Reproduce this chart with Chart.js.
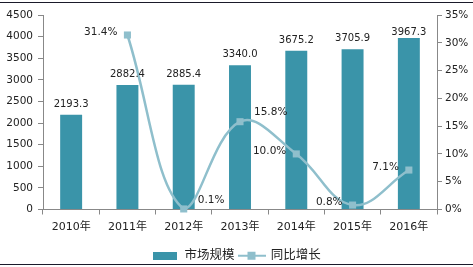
<!DOCTYPE html>
<html>
<head>
<meta charset="utf-8">
<script src="https://cdn.jsdelivr.net/npm/chart.js@4/dist/chart.umd.min.js"></script>
<style>
  html, body { margin: 0; padding: 0; background: #fff; }
  #wrap { position: relative; width: 473px; height: 267px; }
  .edge { position: absolute; left: 0; width: 473px; height: 1px; background: #1a1a2a; }
</style>
</head>
<body>
<div id="wrap">
  <canvas id="myChart" width="473" height="267"></canvas>
  <div class="edge" style="top:2px"></div>
  <div class="edge" style="top:264px"></div>
</div>
<script>
// данные графика
const years = ["2010年", "2011年", "2012年", "2013年", "2014年", "2015年", "2016年"];
const marketSize = [2193.3, 2882.4, 2885.4, 3340.0, 3675.2, 3705.9, 3967.3];
const growth = [null, 31.4, 0.1, 15.8, 10.0, 0.8, 7.1];
const leftTicks = [0, 500, 1000, 1500, 2000, 2500, 3000, 3500, 4000, 4500];
const rightTicks = [0, 5, 10, 15, 20, 25, 30, 35];

const barColor = "#3a94a9";
const lineColor = "#8fbfcc";
const font = "'DejaVu Sans', 'Noto Sans CJK SC', sans-serif";

// где рисовать подписи процентов: слева или справа от точки
const growthLabelSide = [null, "left", "right", "right", "left", "left", "left"];

// иконки для легенды
function barIcon() {
  const c = document.createElement("canvas");
  c.width = 24; c.height = 8;
  const g = c.getContext("2d");
  g.fillStyle = barColor;
  g.fillRect(0, 0, 24, 8);
  return c;
}
function lineIcon() {
  const c = document.createElement("canvas");
  c.width = 28; c.height = 10;
  const g = c.getContext("2d");
  g.strokeStyle = lineColor;
  g.lineWidth = 2;
  g.beginPath(); g.moveTo(0, 5); g.lineTo(28, 5); g.stroke();
  g.fillStyle = lineColor;
  g.fillRect(10, 1, 8, 8);
  return c;
}

// подписи значений
const valueLabels = {
  id: "valueLabels",
  afterDatasetsDraw(chart) {
    const ctx = chart.ctx;
    ctx.save();
    ctx.fillStyle = "#222";
    ctx.font = "10px " + font;
    ctx.textBaseline = "alphabetic";
    ctx.textAlign = "center";
    chart.getDatasetMeta(0).data.forEach((bar, i) => {
      ctx.fillText(marketSize[i].toFixed(1), bar.x, Math.max(bar.y - 8, 35));
    });
    ctx.font = "10.5px " + font;
    ctx.textBaseline = "middle";
    chart.getDatasetMeta(1).data.forEach((pt, i) => {
      if (growth[i] === null) return;
      const txt = growth[i].toFixed(1) + "%";
      if (growthLabelSide[i] === "left") {
        ctx.textAlign = "right";
        ctx.fillText(txt, pt.x - 10, pt.y - 3);
      } else {
        ctx.textAlign = "left";
        ctx.fillText(txt, pt.x + 14, pt.y - 9);
      }
    });
    ctx.restore();
  }
};

const ctx = document.getElementById("myChart").getContext("2d");

const config = {
  data: {
    labels: years,
    datasets: [{
      type: "bar",
      label: "市场规模",
      data: marketSize,
      backgroundColor: barColor,
      yAxisID: "y",
      barPercentage: 0.78,
      categoryPercentage: 0.5,
      order: 2
    }, {
      type: "line",
      label: "同比增长",
      data: growth,
      yAxisID: "y1",
      borderColor: lineColor,
      backgroundColor: lineColor,
      borderWidth: 2.5,
      tension: 0.4,
      pointStyle: "rect",
      pointRadius: 5,
      pointBorderWidth: 0,
      spanGaps: true,
      clip: false,
      order: 1
    }]
  },
  options: {
    responsive: false,
    animation: false,
    layout: { padding: { top: 15, left: 0, right: 0, bottom: -5 } },
    plugins: {
      tooltip: { enabled: false },
      legend: {
        position: "bottom",
        labels: {
          color: "#222",
          font: { family: font, size: 12.5 },
          usePointStyle: true,
          pointStyleWidth: 26,
          padding: 4,
          generateLabels(chart) {
            return [
              { text: "市场规模", pointStyle: barIcon(), fillStyle: barColor, strokeStyle: barColor, lineWidth: 0, datasetIndex: 0, fontColor: "#222" },
              { text: "同比增长", pointStyle: lineIcon(), fillStyle: lineColor, strokeStyle: lineColor, lineWidth: 0, datasetIndex: 1, fontColor: "#222" }
            ];
          }
        }
      }
    },
    scales: {
      x: {
        offset: true,
        grid: { display: true, drawOnChartArea: false, offset: true, color: "#888", tickLength: 5 },
        border: { color: "#888" },
        ticks: { color: "#222", font: { family: font, size: 11 }, padding: 6 },
        afterFit(scale) { scale.height = 36; }
      },
      y: {
        position: "left",
        min: 0, max: 4500,
        afterBuildTicks(scale) { scale.ticks = leftTicks.map(v => ({ value: v })); },
        grid: { display: true, drawOnChartArea: false, color: "#888", tickLength: 5 },
        border: { color: "#888" },
        ticks: { color: "#222", font: { family: font, size: 10.5 }, padding: 5, callback: v => String(v) },
        afterFit(scale) { scale.width = 43; }
      },
      y1: {
        position: "right",
        min: 0, max: 35,
        afterBuildTicks(scale) { scale.ticks = rightTicks.map(v => ({ value: v })); },
        grid: { display: true, drawOnChartArea: false, color: "#888", tickLength: 5 },
        border: { color: "#888" },
        ticks: { color: "#222", font: { family: font, size: 10.5 }, padding: 3, callback: v => v + "%" },
        afterFit(scale) { scale.width = 36; }
      }
    }
  },
  plugins: [valueLabels]
};

const myChart = new Chart(ctx, config);
</script>
</body>
</html>
